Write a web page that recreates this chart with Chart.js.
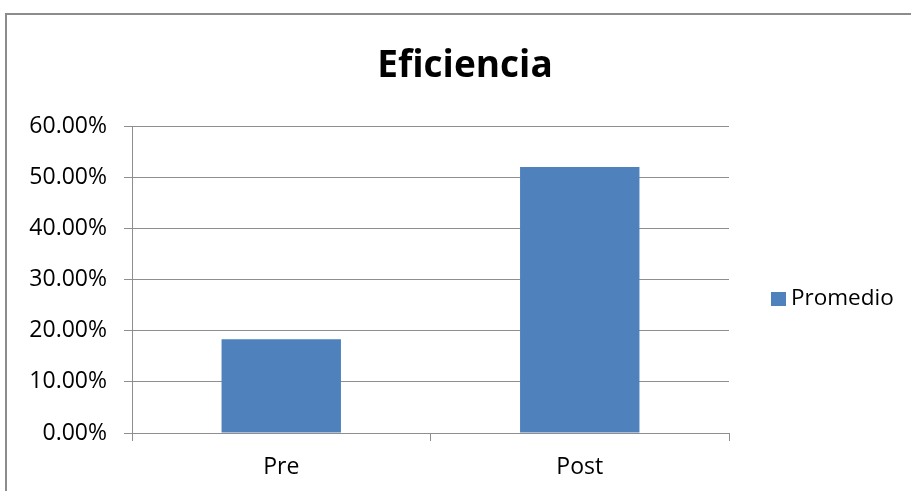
<!DOCTYPE html>
<html>
<head>
<meta charset="utf-8">
<script src="https://cdn.jsdelivr.net/npm/chart.js@4/dist/chart.umd.min.js"></script>
<style>
    html, body { margin: 0; padding: 0; background: #ffffff; }
    #wrap { position: relative; width: 911px; height: 491px; overflow: hidden; }
    #frame {
        position: absolute; left: 5px; top: 13px;
        width: 1000px; height: 1000px;
        border: 2px solid #8c8c8c;
    }
    #chartBox { position: absolute; left: 0; top: 0; width: 911px; height: 491px; }
</style>
</head>
<body>
<div id="wrap">
    <div id="frame"></div>
    <div id="chartBox"><canvas id="effChart"></canvas></div>
</div>
<script>
const categories = ["Pre", "Post"];
const promedio = [0.183, 0.52];
const series_label = "Promedio";
const chart_title = "Eficiencia";

const font_family = "'Open Sans', 'Liberation Sans', sans-serif";
const bar_color = "#4f81bd";
const grid_color = "#8e8e8e";

// title and legend are placed like the Excel original, not inside the plot box
const excel_decor = {
    id: "excelDecor",
    afterDraw(chart) {
        const ctx = chart.ctx;
        const ds = chart.data.datasets[0];
        ctx.save();
        ctx.fillStyle = "#000000";
        ctx.font = "bold 37px " + font_family;
        ctx.textAlign = "center";
        ctx.textBaseline = "middle";
        ctx.fillText(chart_title, 465, 66);

        ctx.fillStyle = ds.backgroundColor;
        ctx.fillRect(771, 292, 15, 14);
        ctx.fillStyle = "#000000";
        ctx.font = "22.5px " + font_family;
        ctx.textAlign = "left";
        ctx.fillText(ds.label, 791, 299);
        ctx.restore();
    }
};

new Chart(document.getElementById("effChart"), {
    type: "bar",
    data: {
        labels: categories,
        datasets: [{
            label: series_label,
            data: promedio,
            backgroundColor: bar_color,
            categoryPercentage: 1,
            barPercentage: 0.4
        }]
    },
    options: {
        responsive: true,
        maintainAspectRatio: false,
        animation: false,
        layout: {
            padding: { left: 0, right: 182, top: 126, bottom: 0 }
        },
        scales: {
            x: {
                grid: {
                    display: true,
                    drawOnChartArea: false,
                    drawTicks: true,
                    tickLength: 8,
                    color: grid_color
                },
                border: { display: true, color: grid_color, width: 1 },
                ticks: {
                    color: "#000000",
                    padding: 13,
                    font: { family: font_family, size: 23 }
                },
                afterFit(scale) {
                    scale.height = 58;
                }
            },
            y: {
                min: 0,
                max: 0.6,
                ticks: {
                    stepSize: 0.1,
                    color: "#000000",
                    padding: 17,
                    font: { family: font_family, size: 23 },
                    callback: value => (value * 100).toFixed(2) + "%"
                },
                grid: {
                    color: grid_color,
                    tickLength: 8
                },
                border: { display: true, color: grid_color, width: 1 },
                afterFit(scale) {
                    scale.width = 132;
                }
            }
        },
        plugins: {
            legend: { display: false },
            tooltip: { enabled: false },
            title: { display: false }
        }
    },
    plugins: [excel_decor]
});
</script>
</body>
</html>
